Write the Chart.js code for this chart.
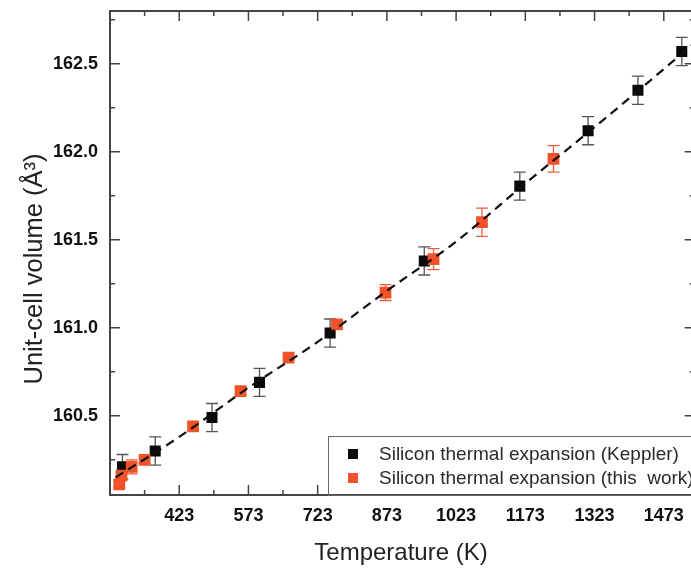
<!DOCTYPE html>
<html lang="en">
<head>
<meta charset="UTF-8">
<title>Silicon thermal expansion</title>
<script src="https://cdn.jsdelivr.net/npm/chart.js"></script>
<style>
    html, body { margin: 0; padding: 0; background: #fff; overflow: hidden; }
    #wrap { width: 703px; height: 568px; }
</style>
</head>
<body>
<div id="wrap"><canvas id="chart" width="703" height="568"></canvas></div>
<script>
// Keppler reference points (K, Å^3, error)
const kepplerT = [300, 371, 494, 597, 750, 954, 1161, 1309, 1417, 1512];
const kepplerV = [160.21, 160.30, 160.49, 160.69, 160.97, 161.38, 161.805, 162.12, 162.35, 162.57];
const kepplerErr = [0.07, 0.08, 0.08, 0.08, 0.08, 0.08, 0.08, 0.08, 0.08, 0.08];

// this work
const workT = [293, 298, 320, 348, 453, 556, 660, 765, 870, 974, 1079, 1234];
const workV = [160.11, 160.16, 160.21, 160.25, 160.44, 160.64, 160.83, 161.02, 161.20, 161.39, 161.60, 161.96];
const workErr = [0.02, 0.02, 0.04, 0.02, 0.02, 0.02, 0.01, 0.02, 0.045, 0.06, 0.08, 0.075];

// dashed fit curve
const fitT = [285, 423, 573, 723, 873, 1023, 1173, 1323, 1473, 1540];
const fitV = [160.15, 160.38, 160.66, 160.92, 161.21, 161.49, 161.82, 162.14, 162.47, 162.62];

const xTicks = [423, 573, 723, 873, 1023, 1173, 1323, 1473];
const yTicks = [160.5, 161.0, 161.5, 162.0, 162.5];

const labelKeppler = 'Silicon thermal expansion (Keppler)';
const labelWork = 'Silicon thermal expansion (this  work)';

const BLACK = '#0a0a0a';
const RED = '#f0522a';
const FONT = "'Liberation Sans', Arial, sans-serif";

const pts = (xs, ys) => xs.map((v, i) => ({ x: v, y: ys[i] }));

// error bars, inward frame ticks, legend box and axis titles
const decorations = {
    id: 'decorations',
    beforeDatasetsDraw(chart) {
        const { ctx, scales: { x, y } } = chart;
        const bars = (ts, vs, es, color) => {
            ctx.save();
            ctx.strokeStyle = color;
            ctx.lineWidth = 1.3;
            ts.forEach((t, i) => {
                const px = x.getPixelForValue(t);
                const top = y.getPixelForValue(vs[i] + es[i]);
                const bot = y.getPixelForValue(vs[i] - es[i]);
                ctx.beginPath();
                ctx.moveTo(px, top); ctx.lineTo(px, bot);
                ctx.moveTo(px - 6, top); ctx.lineTo(px + 6, top);
                ctx.moveTo(px - 6, bot); ctx.lineTo(px + 6, bot);
                ctx.stroke();
            });
            ctx.restore();
        };
        bars(kepplerT, kepplerV, kepplerErr, '#555');
        bars(workT, workV, workErr, '#e8603c');
    },
    afterDraw(chart) {
        const { ctx, chartArea: a, scales: { x, y } } = chart;
        ctx.save();
        ctx.strokeStyle = '#444';
        ctx.lineWidth = 2;
        ctx.strokeRect(a.left, a.top, a.right - a.left, a.bottom - a.top);

        ctx.lineWidth = 1.5;
        ctx.beginPath();
        const xs = [];
        xTicks.forEach(v => { xs.push([v, 10]); xs.push([v - 75, 5]); });
        xs.push([xTicks[xTicks.length - 1] + 75, 5]);
        xs.forEach(([v, len]) => {
            const px = x.getPixelForValue(v);
            if (px < a.left || px > a.right) return;
            ctx.moveTo(px, a.bottom); ctx.lineTo(px, a.bottom - len);
            ctx.moveTo(px, a.top); ctx.lineTo(px, a.top + len);
        });
        const ys = [];
        yTicks.forEach(v => { ys.push([v, 10]); ys.push([v + 0.25, 5]); });
        ys.push([yTicks[0] - 0.25, 5]);
        ys.forEach(([v, len]) => {
            const py = y.getPixelForValue(v);
            if (py < a.top || py > a.bottom) return;
            ctx.moveTo(a.left, py); ctx.lineTo(a.left + len, py);
            ctx.moveTo(a.right, py); ctx.lineTo(a.right - len, py);
        });
        ctx.stroke();

        // legend
        const lx = 328, ly = 436;
        ctx.fillStyle = '#fff';
        ctx.fillRect(lx, ly, 400, a.bottom - ly - 1);
        ctx.strokeStyle = '#666';
        ctx.lineWidth = 1;
        ctx.strokeRect(lx + 0.5, ly + 0.5, 400, a.bottom - ly);
        ctx.font = '19px ' + FONT;
        ctx.textBaseline = 'middle';
        ctx.textAlign = 'left';
        [[labelKeppler, BLACK, 454], [labelWork, RED, 478]].forEach(([txt, col, ty]) => {
            ctx.fillStyle = col;
            ctx.fillRect(348, ty - 5, 10, 10);
            ctx.fillStyle = '#2a2a2a';
            ctx.fillText(txt, 379, ty + 1);
        });

        // axis titles
        ctx.fillStyle = '#222';
        ctx.textAlign = 'center';
        ctx.font = '24px ' + FONT;
        ctx.fillText('Temperature (K)', 401, 553);
        ctx.translate(35, 269);
        ctx.rotate(-Math.PI / 2);
        ctx.font = '25.5px ' + FONT;
        ctx.fillText('Unit-cell volume (Å³)', 0, 0);
        ctx.restore();
    }
};

const tickFont = { family: FONT, size: 18, weight: 'bold' };

new Chart(document.getElementById('chart'), {
    type: 'scatter',
    data: {
        datasets: [
            {
                type: 'line',
                label: 'fit',
                data: pts(fitT, fitV),
                borderColor: '#111',
                borderWidth: 2.2,
                borderDash: [9, 6],
                pointRadius: 0,
                fill: false,
                cubicInterpolationMode: 'monotone',
                order: 0
            },
            {
                label: labelWork,
                data: pts(workT, workV),
                backgroundColor: RED,
                borderWidth: 0,
                pointStyle: 'rect',
                pointRadius: 8.3,
                order: 1
            },
            {
                label: labelKeppler,
                data: pts(kepplerT, kepplerV),
                backgroundColor: BLACK,
                borderWidth: 0,
                pointStyle: 'rect',
                pointRadius: 7.8,
                order: 2
            }
        ]
    },
    options: {
        responsive: false,
        animation: false,
        layout: { padding: { top: 11, right: 2, left: 0, bottom: 0 } },
        plugins: { legend: { display: false }, tooltip: { enabled: false } },
        scales: {
            x: {
                type: 'linear',
                min: 273,
                max: 1540,
                afterFit(s) { s.height = 73; s.paddingLeft = 0; s.paddingRight = 0; },
                afterBuildTicks(s) { s.ticks = xTicks.map(v => ({ value: v })); },
                grid: { display: false, drawTicks: false },
                border: { display: false },
                ticks: { padding: 10, font: tickFont, color: '#111', maxRotation: 0, autoSkip: false, callback: v => String(v) }
            },
            y: {
                type: 'linear',
                min: 160.05,
                max: 162.8,
                afterFit(s) { s.width = 110; s.paddingTop = 0; s.paddingBottom = 0; },
                afterBuildTicks(s) { s.ticks = yTicks.map(v => ({ value: v })); },
                grid: { display: false, drawTicks: false },
                border: { display: false },
                ticks: { padding: 12, font: tickFont, color: '#111', callback: v => v.toFixed(1) }
            }
        }
    },
    plugins: [decorations]
});
</script>
</body>
</html>
